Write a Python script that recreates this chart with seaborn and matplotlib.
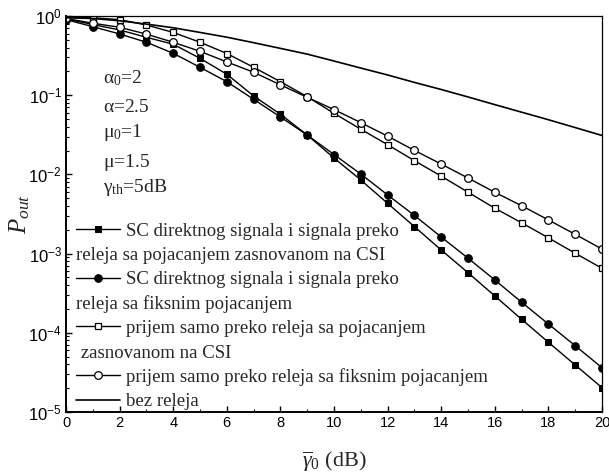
import numpy as np
import pandas as pd
import matplotlib
matplotlib.use("Agg")
import matplotlib.pyplot as plt
from matplotlib.lines import Line2D
from matplotlib.ticker import LogLocator, NullFormatter, FuncFormatter, MultipleLocator
import seaborn as sns

# ---------------- data ----------------
snr_db = list(range(0, 21))

sc_csi = [0.92, 0.78, 0.666, 0.538, 0.44, 0.292, 0.184, 0.0977, 0.0575, 0.0314,
          0.0161, 0.0085, 0.00431, 0.00219, 0.00111, 0.000574, 0.000292,
          0.000148, 7.59e-5, 3.92e-5, 2.03e-5]
sc_fixed = [0.90, 0.733, 0.593, 0.466, 0.338, 0.225, 0.148, 0.0888, 0.053, 0.0314,
            0.0178, 0.0101, 0.0055, 0.00303, 0.00162, 0.000875, 0.000465,
            0.000243, 0.000129, 6.87e-5, 3.62e-5]
relay_csi = [0.97, 0.95, 0.90, 0.77, 0.62, 0.466, 0.336, 0.225, 0.148, 0.0958,
             0.059, 0.0372, 0.0237, 0.0149, 0.0095, 0.00596, 0.00374,
             0.00245, 0.00158, 0.00101, 0.000652]
relay_fixed = [0.93, 0.81, 0.72, 0.59, 0.466, 0.358, 0.263, 0.195, 0.135, 0.094,
               0.0658, 0.045, 0.0304, 0.0201, 0.0135, 0.009, 0.00594,
               0.00402, 0.00266, 0.00175, 0.00114]
no_relay = [0.95, 0.93, 0.87, 0.79, 0.71, 0.62, 0.54, 0.46, 0.39, 0.33,
            0.27, 0.22, 0.18, 0.145, 0.118, 0.095, 0.076, 0.061, 0.049,
            0.039, 0.031]

legend_first = ["SC direktnog signala i signala preko",
                "SC direktnog signala i signala preko",
                "prijem samo preko releja sa pojacanjem",
                "prijem samo preko releja sa fiksnim pojacanjem",
                "bez releja"]
legend_second = ["releja sa pojacanjem zasnovanom na CSI",
                 "releja sa fiksnim pojacanjem",
                 " zasnovanom na CSI"]
params_text = [r"$\mathrm{\alpha_0}$=2", r"$\mathrm{\alpha}$=2.5",
               r"$\mathrm{\mu_0}$=1", r"$\mathrm{\mu}$=1.5",
               r"$\mathrm{\gamma_{th}}$=5dB"]
x_label = r"$\overline{\gamma}_0$ (dB)"
y_label = r"$P_{out}$"

# ---------------- style ----------------
sns.set_theme(style="ticks")
plt.rcParams["font.family"] = ["Liberation Serif", "DejaVu Serif"]
plt.rcParams["mathtext.fontset"] = "custom"
plt.rcParams["mathtext.rm"] = "Liberation Serif"
plt.rcParams["mathtext.it"] = "Liberation Serif:italic"
plt.rcParams["mathtext.sf"] = "Liberation Sans"

fig = plt.figure(figsize=(6.09, 4.73), dpi=100)
ax = fig.add_axes([0.1084, 0.129, 0.8801, 0.8372])

df = pd.DataFrame({"x": snr_db, "sc_csi": sc_csi, "sc_fixed": sc_fixed,
                   "relay_csi": relay_csi, "relay_fixed": relay_fixed,
                   "no_relay": no_relay})

lw = 1.0
ms = 5
sns.lineplot(data=df, x="x", y="sc_csi", ax=ax, color="black", lw=lw, marker="s",
             markersize=ms, markerfacecolor="black", markeredgecolor="black", legend=False)
sns.lineplot(data=df, x="x", y="sc_fixed", ax=ax, color="black", lw=lw, marker="o",
             markersize=ms + 0.5, markerfacecolor="black", markeredgecolor="black", legend=False)
sns.lineplot(data=df, x="x", y="relay_csi", ax=ax, color="black", lw=lw, marker="s",
             markersize=ms, markerfacecolor="white", markeredgecolor="black",
             markeredgewidth=0.9, legend=False)
sns.lineplot(data=df, x="x", y="relay_fixed", ax=ax, color="black", lw=lw, marker="o",
             markersize=ms + 0.5, markerfacecolor="white", markeredgecolor="black",
             markeredgewidth=0.9, legend=False)
sns.lineplot(data=df, x="x", y="no_relay", ax=ax, color="black", lw=1.2, legend=False)

ax.set_yscale("log")
ax.set_xlim(0, 20)
ax.set_ylim(1e-5, 1)

ax.xaxis.set_major_locator(MultipleLocator(2))
ax.xaxis.set_minor_locator(MultipleLocator(1))
ax.yaxis.set_major_locator(LogLocator(base=10, numticks=10))
ax.yaxis.set_minor_locator(LogLocator(base=10, subs=np.arange(2, 10), numticks=20))
ax.yaxis.set_minor_formatter(NullFormatter())
ax.yaxis.set_major_formatter(FuncFormatter(
    lambda v, p: r"$\mathsf{10^{%d}}$" % int(round(np.log10(v)))))
ax.xaxis.set_major_formatter(FuncFormatter(lambda v, p: "%d" % v))

ax.tick_params(axis="both", which="both", direction="in", top=False, right=False,
               colors="black", labelcolor="black")
ax.tick_params(axis="both", which="major", length=4, width=1.0, pad=3)
ax.tick_params(axis="x", which="major", labelsize=10.5)
ax.tick_params(axis="y", which="major", labelsize=12)
ax.tick_params(axis="both", which="minor", length=2.2, width=0.8)
for lab in ax.get_xticklabels() + ax.get_yticklabels():
    lab.set_fontfamily("Liberation Sans")

for side in ["left", "bottom"]:
    ax.spines[side].set_linewidth(1.4)
for side in ["top", "right"]:
    ax.spines[side].set_linewidth(0.9)
for s in ax.spines.values():
    s.set_color("black")

ax.set_xlabel(x_label, fontsize=16, labelpad=14)
ax.set_ylabel(y_label, fontsize=18, labelpad=-3)

# parameter annotations
ypos = [0.843, 0.770, 0.705, 0.631, 0.566]
for t, yy in zip(params_text, ypos):
    ax.text(0.069, yy, t, transform=ax.transAxes, fontsize=14, va="center", ha="left")

# legend (two overlaid legends so the continuation lines start under the handles)
lines = ax.get_lines()
blank = Line2D([], [], linestyle="none")
handles_a = [lines[0], blank, lines[1], blank, lines[2], blank, lines[3], lines[4]]
labels_a = [legend_first[0], " ", legend_first[1], " ", legend_first[2], " ",
            legend_first[3], legend_first[4]]
handles_b = [blank] * 8
labels_b = [" ", legend_second[0], " ", legend_second[1], " ", legend_second[2], " ", " "]

common = dict(loc="lower left", bbox_to_anchor=(0.016, 0.0), bbox_transform=ax.transAxes,
              frameon=False, fontsize=13.5, labelspacing=0.38, borderpad=0.0,
              borderaxespad=0.1)
leg_a = ax.legend(handles_a, labels_a, handlelength=2.3, handletextpad=0.32, **common)
ax.add_artist(leg_a)
leg_b = ax.legend(handles_b, labels_b, handlelength=0, handletextpad=0, **common)

fig.savefig("out.png", dpi=100)
